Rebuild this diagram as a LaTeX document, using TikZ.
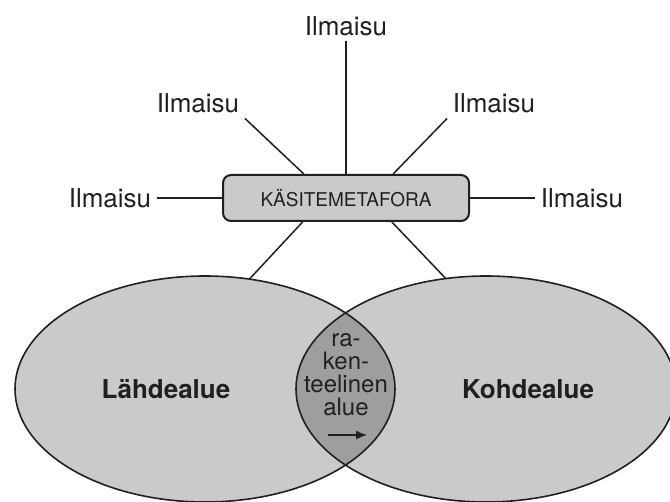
\documentclass[tikz,border=0pt]{standalone}
\usepackage{fontspec}
\setmainfont{TeX Gyre Heros}
\usetikzlibrary{calc,arrows.meta,shapes.geometric}

\definecolor{areagray}{HTML}{C9CACC}
\definecolor{lensgray}{HTML}{9D9EA0}
\definecolor{inkgray}{HTML}{231F20}

\begin{document}
\begin{tikzpicture}[x=1pt,y=-1pt,
    line width=1.5pt, draw=inkgray, text=inkgray,
    expr/.style={inner sep=5pt, font=\fontsize{26}{30}\selectfont},
    concept/.style={draw, line width=2pt, fill=areagray, rounded corners=8pt,
      minimum width=246pt, minimum height=46pt, inner sep=0pt,
      font=\fontsize{19}{22}\selectfont},
    area/.style={ellipse, draw, line width=1.6pt, inner sep=0pt, outer sep=0pt,
      minimum width=2*\ea pt, minimum height=2*\eb pt},
    domlabel/.style={font=\bfseries\fontsize{26}{30}\selectfont},
    lenstext/.style={align=center, inner sep=0pt, font=\fontsize{24}{23}\selectfont}]
  \def\ea{190}
  \def\eb{113}
  \def\lx{205}
  \def\rx{486}
  \def\ey{389}

  \useasboundingbox (0,0) rectangle (670,502);
  \clip (0,0) rectangle (670,502);

  % Fill domains and overlap
  \fill[areagray] (\lx,\ey) ellipse [x radius=\ea, y radius=\eb];
  \fill[areagray] (\rx,\ey) ellipse [x radius=\ea, y radius=\eb];
  \begin{scope}
    \clip (\lx,\ey) ellipse [x radius=\ea, y radius=\eb];
    \fill[lensgray] (\rx,\ey) ellipse [x radius=\ea, y radius=\eb];
  \end{scope}

  % Outlines
  \node[area] (lahde) at (\lx,\ey) {};
  \node[area] (kohde) at (\rx,\ey) {};

  % Concept box
  \node[concept] (km) at (346,198) {KÄSITEMETAFORA};

  % Expressions
  \node[expr] (top) at (346,26) {Ilmaisu};
  \node[expr] (ul) at (198,103) {Ilmaisu};
  \node[expr] (ur) at (494,103) {Ilmaisu};
  \node[expr] (left) at (110,198) {Ilmaisu};
  \node[expr] (right) at (582,198) {Ilmaisu};

  \draw (top) -- (km);
  \draw (ul.south east) -- ($(km.north)!0.34!(km.north west)$);
  \draw (ur.south west) -- ($(km.north)!0.38!(km.north east)$);
  \draw (left) -- (km);
  \draw (km) -- (right);

  % Links down to domains
  \draw ($(km.south)!0.35!(km.south west)$) -- (lahde.68);
  \draw ($(km.south)!0.37!(km.south east)$) -- (kohde.110);

  % Labels
  \node[domlabel] (lt) at (166,389) {Lähdealue};
  \node[domlabel] (kt) at (528,389) {Kohdealue};
  \node[lenstext] (rak) at (346,375) {ra-\\ken-\\teelinen\\alue};

  \coordinate (arrA) at (328,435);
  \coordinate (arrB) at (367,435);
  \draw[-{Latex[length=11pt,width=9pt]}] (arrA) -- (arrB);
\end{tikzpicture}
\end{document}
